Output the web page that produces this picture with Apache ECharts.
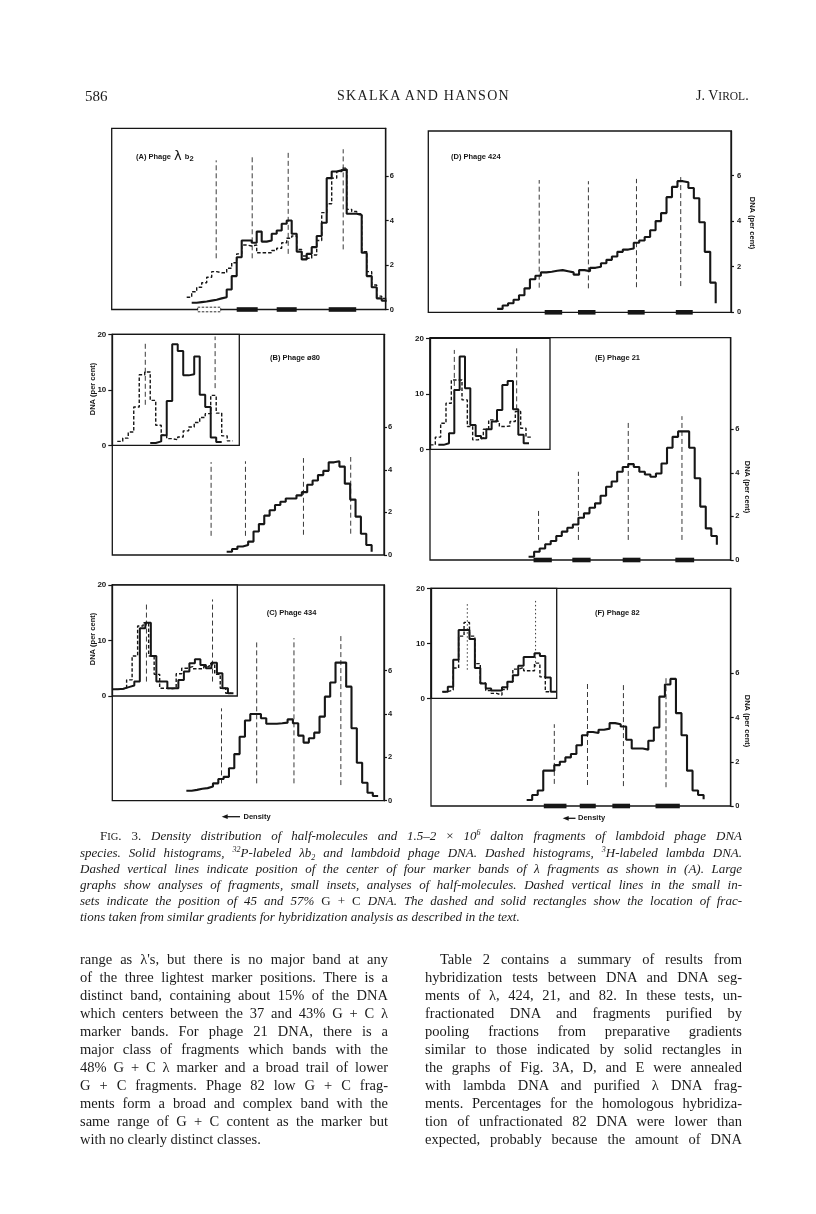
<!DOCTYPE html>
<html>
<head>
<meta charset="utf-8">
<title>Fig. 3 – Skalka and Hanson</title>
<script src="https://cdn.jsdelivr.net/npm/echarts@6.0.0/dist/echarts.min.js"></script>
<style>
html,body{margin:0;padding:0;background:#fff;}
#page{position:relative;width:816px;height:1214px;overflow:hidden;background:#fff;}
#chart{position:absolute;left:0;top:0;width:816px;height:1214px;}
.t{position:absolute;font-family:"Liberation Serif","Times New Roman",serif;color:#1a1a1a;white-space:nowrap;}
.hd{font-size:15px;line-height:16px;top:88px;}
.cap{font-size:13px;font-style:italic;line-height:16px;}
.body{font-size:14.5px;line-height:18px;}
.up{font-style:normal;}
.sp{font-size:8px;line-height:0;position:relative;top:-5px;}
.sb{font-size:8px;line-height:0;position:relative;top:3px;}
</style>
</head>
<body>
<div id="page">
<div id="chart"></div>

<div class="t hd" style="left:85px">586</div>
<div class="t hd" style="left:337px;font-size:14px;letter-spacing:1.3px">SKALKA AND HANSON</div>
<div class="t hd" style="left:696px;font-size:14px">J. V<span style="font-size:11.5px">IROL</span>.</div>

<div class="t cap jl" data-w="642" style="left:100px;top:828px"><span class="up">F<span style="font-size:10.5px">IG</span>. 3.</span> Density distribution of half-molecules and 1.5–2 <span class="up">×</span> 10<span class="sp">6</span> dalton fragments of lambdoid phage DNA</div>
<div class="t cap jl" data-w="662" style="left:80px;top:845px">species. Solid histograms, <span class="sp">32</span>P-labeled λb<span class="sb">2</span> and lambdoid phage DNA. Dashed histograms, <span class="sp">3</span>H-labeled lambda DNA.</div>
<div class="t cap jl" data-w="662" style="left:80px;top:861px">Dashed vertical lines indicate position of the center of four marker bands of λ fragments as shown in (A). Large</div>
<div class="t cap jl" data-w="662" style="left:80px;top:877px">graphs show analyses of fragments, small insets, analyses of half-molecules. Dashed vertical lines in the small in-</div>
<div class="t cap jl" data-w="662" style="left:80px;top:893px">sets indicate the position of 45 and 57% <span class="up">G + C</span> DNA. The dashed and solid rectangles show the location of frac-</div>
<div class="t cap" style="left:80px;top:909px">tions taken from similar gradients for hybridization analysis as described in the text.</div>

<div class="t body jl" data-w="308" style="left:80px;top:950px">range as λ's, but there is no major band at any</div>
<div class="t body jl" data-w="308" style="left:80px;top:968px">of the three lightest marker positions. There is a</div>
<div class="t body jl" data-w="308" style="left:80px;top:986px">distinct band, containing about 15% of the DNA</div>
<div class="t body jl" data-w="308" style="left:80px;top:1004px">which centers between the 37 and 43% G + C λ</div>
<div class="t body jl" data-w="308" style="left:80px;top:1022px">marker bands. For phage 21 DNA, there is a</div>
<div class="t body jl" data-w="308" style="left:80px;top:1040px">major class of fragments which bands with the</div>
<div class="t body jl" data-w="308" style="left:80px;top:1058px">48% G + C λ marker and a broad trail of lower</div>
<div class="t body jl" data-w="308" style="left:80px;top:1076px">G + C fragments. Phage 82 low G + C frag-</div>
<div class="t body jl" data-w="308" style="left:80px;top:1094px">ments form a broad and complex band with the</div>
<div class="t body jl" data-w="308" style="left:80px;top:1112px">same range of G + C content as the marker but</div>
<div class="t body" style="left:80px;top:1130px">with no clearly distinct classes.</div>

<div class="t body jl" data-w="302" style="left:440px;top:950px">Table 2 contains a summary of results from</div>
<div class="t body jl" data-w="317" style="left:425px;top:968px">hybridization tests between DNA and DNA seg-</div>
<div class="t body jl" data-w="317" style="left:425px;top:986px">ments of λ, 424, 21, and 82. In these tests, un-</div>
<div class="t body jl" data-w="317" style="left:425px;top:1004px">fractionated DNA and fragments purified by</div>
<div class="t body jl" data-w="317" style="left:425px;top:1022px">pooling fractions from preparative gradients</div>
<div class="t body jl" data-w="317" style="left:425px;top:1040px">similar to those indicated by solid rectangles in</div>
<div class="t body jl" data-w="317" style="left:425px;top:1058px">the graphs of Fig. 3A, D, and E were annealed</div>
<div class="t body jl" data-w="317" style="left:425px;top:1076px">with lambda DNA and purified λ DNA frag-</div>
<div class="t body jl" data-w="317" style="left:425px;top:1094px">ments. Percentages for the homologous hybridiza-</div>
<div class="t body jl" data-w="317" style="left:425px;top:1112px">tion of unfractionated 82 DNA were lower than</div>
<div class="t body jl" data-w="317" style="left:425px;top:1130px">expected, probably because the amount of DNA</div>
</div>

<script>
// ================= DATA =================
const mainTicks = [0, 2, 4, 6];
const insetTicks = [0, 10, 20];

// (A) Phage λb2 — fragments (fraction index = bin number)
const A_solidStart = 16;
const A_solid = [0.30,0.33,0.36,0.40,0.44,0.50,0.55,0.90,1.50,2.35,3.10,3.10,3.00,3.50,3.05,3.10,3.40,3.55,3.85,4.00,3.40,2.60,2.25,2.50,2.80,3.30,3.90,5.90,6.20,6.25,6.30,4.30,4.30,4.25,2.55,1.50,1.00,0.50,0.40];
const A_dashedStart = 15;
const A_dashed = [0.55,0.80,1.00,1.20,1.45,1.70,1.65,1.65,1.85,2.10,2.50,2.90,2.85,2.90,2.55,2.55,2.55,2.65,2.75,3.00,3.20,3.30,2.70,2.40,2.30,2.45,3.10,4.35,4.75,5.90,6.20,6.35,4.50,4.40,4.30,2.60,1.70,1.10,0.60,0.50];
const A_markerX = [20.9, 28.1, 35.3, 46.3];
const A_markerLow = [2.3, 2.3, 2.5, 2.7];
const A_markerHigh = [6.7, 6.9, 7.05, 7.2];
const A_solidBands = [[25, 29.2], [33, 37], [43.4, 48.9]];
const A_dashedBands = [[17.2, 21.8]];

// (D) Phage 424
const D_solidStart = 12.6;
const D_solid = [0.15,0.30,0.40,0.55,0.75,1.05,1.45,1.60,1.75,1.78,1.82,1.85,1.80,1.75,1.65,1.85,1.80,1.95,2.00,2.15,2.30,2.45,2.65,2.75,2.80,3.05,3.15,3.30,3.60,4.00,4.35,5.05,5.50,5.75,5.70,5.45,5.00,3.95,2.65,1.30];
const D_solidEnd = 0.4;
const D_markerX = [20.3, 29.3, 38.1, 46.2];
const D_markerLow = [1.08, 1.05, 1.1, 1.15];
const D_markerHigh = [5.8, 5.75, 5.85, 6.05];
const D_solidBands = [[21.3, 24.5], [27.4, 30.6], [36.5, 39.6], [45.3, 48.4]];

// (B) Phage φ80
const B_solidStart = 21.3;
const B_solid = [0.15,0.28,0.40,0.47,0.63,1.10,1.45,1.85,2.10,2.35,2.50,2.65,2.65,2.80,2.95,3.30,3.50,3.75,3.95,4.35,4.40,4.15,3.35,2.60,1.80,1.00,0.47];
const B_solidEnd = 0.15;
const B_markerX = [18.4, 24.8, 35.6, 44.4];
const B_markerLow = [0.9, 0.9, 0.95, 1.0];
const B_markerHigh = [4.36, 4.4, 4.55, 4.6];
// (B) inset — half-molecules
const Bi_dashedStart = 0.9;
const Bi_dashed = [0.7,1.3,2.4,6.9,12.7,13.2,8.1,3.6,1.8,1.2,1.0,1.5,2.6,3.3,4.1,5.0,5.7,9.0,5.8,1.7,0.8];
const Bi_solidStart = 6.9;
const Bi_solid = [0.4,0.7,1.8,8.0,18.2,17.0,12.6,12.8,16.0,9.1,6.9,1.4,0.6];
const Bi_markerX = [6.0, 18.7];
const Bi_markerLow = [7.3, 10.3];
const Bi_markerHigh = [18.7, 19.6];

// (E) Phage 21
const E_solidStart = 17.8;
const E_solid = [0.15,0.38,0.53,0.72,0.87,1.10,1.30,1.48,1.63,1.94,2.14,2.40,2.60,2.95,3.36,3.60,4.05,4.27,4.40,4.27,4.05,3.92,3.82,3.97,4.43,5.15,5.65,5.90,5.90,5.15,3.75,2.45,1.45,1.10];
const E_solidEnd = 0.7;
const E_markerX = [19.6, 26.8, 35.8, 45.5];
const E_markerLow = [0.92, 0.92, 0.92, 0.92];
const E_markerHigh = [2.3, 4.05, 6.3, 6.6];
const E_solidBands = [[18.7, 22], [25.7, 29], [34.8, 38], [44.3, 47.7]];
const Ei_dashedStart = 0;
const Ei_dashed = [0.8,2.2,4.7,8.3,12.5,12.5,8.9,4.1,1.7,2.0,3.6,5.3,5.0,4.1,4.2,5.0,6.8,3.8,2.2];
const Ei_solidStart = 1.56;
const Ei_solid = [0.8,1.1,2.9,10.7,16.7,11.0,4.4,2.4,2.0,3.6,5.0,7.1,11.6,12.3,7.2,2.6,1.1];
const Ei_markerX = [4.56, 16.25];
const Ei_markerLow = [7.1, 7.2];
const Ei_markerHigh = [17.9, 18.2];

// (C) Phage 434
const C_solidStart = 13.9;
const C_solid = [0.46,0.50,0.55,0.58,0.65,0.80,1.00,1.10,1.50,2.15,2.95,3.70,4.00,4.00,3.80,3.55,3.55,3.57,3.60,3.75,3.57,3.00,2.68,2.88,3.14,3.88,4.80,5.45,6.37,6.37,5.26,3.34,1.75,0.83,0.37,0.22];
const C_markerX = [20.5, 27.1, 34.1, 42.9];
const C_markerLow = [0.8, 0.8, 0.8, 0.72];
const C_markerHigh = [4.26, 7.3, 7.5, 7.65];
const Ci_solidStart = 0;
const Ci_solid = [1.2,1.3,1.6,1.9,2.6,12.2,13.2,7.2,2.6,2.6,1.4,1.4,2.9,4.4,5.9,6.6,5.6,5.0,6.0,4.1,1.4,0.5];
const Ci_dashedStart = 0.6;
const Ci_dashed = [1.2,1.4,2.9,7.2,12.6,13.2,7.2,3.9,1.4,1.3,1.4,4.0,5.0,5.3,4.9,4.9,5.3,5.8,3.9,1.4,0.5];
const Ci_markerX = [6.2, 18.2];
const Ci_markerLow = [2.6, 2.6];
const Ci_markerHigh = [17.0, 17.4];

// (F) Phage 82
const F_solidStart = 17.3;
const F_solid = [0.27,0.50,0.70,1.60,1.60,1.85,2.00,2.20,2.35,2.75,3.20,3.35,3.30,3.45,3.50,3.75,3.70,3.60,3.00,2.60,2.60,2.55,2.95,3.55,4.95,5.50,5.75,4.20,3.20,1.60,0.70,0.50];
const F_solidEnd = 0.3;
const F_markerX = [22.3, 28.3, 34.8, 42.5];
const F_markerLow = [1.0, 0.95, 0.9, 0.85];
const F_markerHigh = [3.7, 5.6, 5.6, 5.9];
const F_solidBands = [[20.4, 24.5], [26.9, 29.8], [32.8, 36], [40.6, 45]];
const Fi_solidStart = 2.1;
const Fi_solid = [1.2,2.1,7.0,12.4,12.4,10.8,5.5,2.7,1.8,1.4,1.4,2.0,3.0,4.2,5.9,7.5,7.5,8.2,7.7,3.8,1.2];
const Fi_dashedStart = 2.1;
const Fi_dashed = [1.2,1.5,5.5,11.3,13.8,11.3,6.3,2.8,1.4,0.9,0.6,1.6,3.0,5.3,5.6,5.0,5.0,6.4,3.9,1.2];
const Fi_markerX = [6.7, 19.3];
const Fi_markerLow = [5.2, 5.8];
const Fi_markerHigh = [17.3, 17.9];

// ================= LAYOUT / STYLE =================
const INK = '#161616';
const FIGFONT = '"Liberation Sans","DejaVu Sans",Arial,sans-serif';

function hist(values, start, endValue) {
  const pts = values.map((v, i) => [start + i, v]);
  pts.push([start + values.length, values[values.length - 1]]);
  if (endValue !== undefined) pts.push([start + values.length, endValue]);
  return pts;
}

// box = [left, top, width, height] in px
const panels = [
  {box:[111.7,128.3,274,181.2], xMax:54.8, yMax:8.14, inset:false,
   lines:[{d:hist(A_dashed,A_dashedStart),dash:true},{d:hist(A_solid,A_solidStart),dash:false}],
   mk:[A_markerX,A_markerLow,A_markerHigh], bands:A_solidBands, dbands:A_dashedBands, labMargin:4},
  {box:[428.3,131,302.7,181.3], xMax:55.4, yMax:7.95, inset:false,
   lines:[{d:hist(D_solid,D_solidStart,D_solidEnd),dash:false}],
   mk:[D_markerX,D_markerLow,D_markerHigh], bands:D_solidBands, labMargin:6},
  {box:[112.3,334.3,271.7,220.7], xMax:50.6, yMax:10.36, inset:false,
   lines:[{d:hist(B_solid,B_solidStart,B_solidEnd),dash:false}],
   mk:[B_markerX,B_markerLow,B_markerHigh], labMargin:4},
  {box:[430,337.7,300.7,222.3], xMax:54.3, yMax:10.2, inset:false,
   lines:[{d:hist(E_solid,E_solidStart,E_solidEnd),dash:false}],
   mk:[E_markerX,E_markerLow,E_markerHigh], bands:E_solidBands, labMargin:4.5},
  {box:[112.3,585,271.7,215.7], xMax:51, yMax:9.95, inset:false,
   lines:[{d:hist(C_solid,C_solidStart),dash:false}],
   mk:[C_markerX,C_markerLow,C_markerHigh], labMargin:4},
  {box:[431,588.3,299.7,217.7], xMax:54.2, yMax:9.85, inset:false,
   lines:[{d:hist(F_solid,F_solidStart,F_solidEnd),dash:false}],
   mk:[F_markerX,F_markerLow,F_markerHigh], bands:F_solidBands, labMargin:4.5},
  // insets
  {box:[112.3,334.3,127,111], xMax:23.1, yMax:20, inset:true,
   lines:[{d:hist(Bi_dashed,Bi_dashedStart),dash:true},{d:hist(Bi_solid,Bi_solidStart),dash:false}],
   mk:[Bi_markerX,Bi_markerLow,Bi_markerHigh]},
  {box:[430,338.3,120,111], xMax:22.5, yMax:20, inset:true,
   lines:[{d:hist(Ei_dashed,Ei_dashedStart),dash:true},{d:hist(Ei_solid,Ei_solidStart),dash:false}],
   mk:[Ei_markerX,Ei_markerLow,Ei_markerHigh]},
  {box:[112.3,585,125,111], xMax:22.7, yMax:20, inset:true,
   lines:[{d:hist(Ci_dashed,Ci_dashedStart),dash:true},{d:hist(Ci_solid,Ci_solidStart),dash:false}],
   mk:[Ci_markerX,Ci_markerLow,Ci_markerHigh]},
  {box:[431,588.3,125.7,110], xMax:23.2, yMax:20, inset:true,
   lines:[{d:hist(Fi_dashed,Fi_dashedStart),dash:true},{d:hist(Fi_solid,Fi_solidStart),dash:false}],
   mk:[Fi_markerX,Fi_markerLow,Fi_markerHigh], dotted:true}
];

const grid = [], xAxis = [], yAxis = [], series = [];
panels.forEach((p, gi) => {
  grid.push({left:p.box[0], top:p.box[1], width:p.box[2], height:p.box[3],
    show:true, borderColor:INK, borderWidth:1.3,
    backgroundColor: p.inset ? '#ffffff' : 'transparent', z: p.inset ? 3 : 0});
  xAxis.push({type:'value', gridIndex:gi, min:0, max:p.xMax, show:false});
  const ticks = p.inset ? insetTicks : mainTicks;
  yAxis.push({type:'value', gridIndex:gi, min:0, max:p.yMax,
    position: p.inset ? 'left' : 'right', z: p.inset ? 4 : 1,
    axisLine:{show:true, onZero:false, lineStyle:{color:INK, width:1.3}},
    axisTick:{show:true, inside:false, length: p.inset ? 4 : 3, customValues:ticks, lineStyle:{color:INK, width:1.2}},
    axisLabel:{customValues:ticks, color:INK, fontFamily:FIGFONT, fontWeight:'bold',
      fontSize: p.inset ? 8 : 7.5, margin: p.inset ? 6 : p.labMargin},
    splitLine:{show:false}});
  // histograms
  p.lines.forEach(l => {
    series.push({type:'line', xAxisIndex:gi, yAxisIndex:gi, step:'end', data:l.d,
      symbol:'none', silent:true, z: p.inset ? 6 : 3,
      lineStyle: l.dash ? {color:INK, width:1.4, type:[3.5,2]} : {color:INK, width: p.inset ? 2.0 : 2.1}});
  });
  // marker (dashed vertical) lines
  const [mx, lo, hi] = p.mk;
  mx.forEach((x, i) => {
    series.push({type:'line', xAxisIndex:gi, yAxisIndex:gi, data:[[x, lo[i]], [x, hi[i]]],
      symbol:'none', silent:true, z: p.inset ? 5 : 2,
      lineStyle:{color:'#3a3a3a', width:1, type: p.dotted ? [1.5,2.5] : [5,3]}});
  });
  // fraction rectangles on the x axis
  const addBands = (bands, filled) => {
    series.push({type:'custom', xAxisIndex:gi, yAxisIndex:gi, data:bands, clip:false, silent:true, z:7,
      renderItem:(params, api) => {
        const a = api.coord([api.value(0), 0]);
        const b = api.coord([api.value(1), 0]);
        return {type:'rect', shape:{x:a[0], y:a[1]-2.3, width:b[0]-a[0], height:4.6},
          style: filled ? {fill:INK} : {fill:'#fff', stroke:INK, lineWidth:0.9, lineDash:[2.5,1.5]}};
      }});
  };
  if (p.bands) addBands(p.bands, true);
  if (p.dbands) addBands(p.dbands, false);
});

const lab = (x, y, text) => ({type:'text', x, y, silent:true, z:20,
  style:{text, fill:INK, fontFamily:FIGFONT, fontWeight:'bold', fontSize:7.5, align:'left', verticalAlign:'middle'}});
const vlab = (x, y, rot) => ({type:'text', x, y, rotation:rot, silent:true, z:20,
  style:{text:'DNA (per cent)', fill:INK, fontFamily:FIGFONT, fontWeight:'bold', fontSize:7.5,
    align:'center', verticalAlign:'middle'}});
const arrow = (x0, x1, y) => ([
  {type:'line', silent:true, z:20, shape:{x1:x0 + 5, y1:y, x2:x1, y2:y}, style:{stroke:INK, lineWidth:1.3}},
  {type:'polygon', silent:true, z:20, shape:{points:[[x0, y], [x0 + 6, y - 2.4], [x0 + 6, y + 2.4]]}, style:{fill:INK}}
]);

const graphic = [
  {type:'text', x:136, y:157, silent:true, z:20, style:{
    text:'{a|(A) Phage }{l|λ}{a| b}{s|2}', fill:INK, align:'left', verticalAlign:'middle',
    rich:{a:{fontFamily:FIGFONT, fontWeight:'bold', fontSize:7.5, fill:INK},
          l:{fontFamily:'"DejaVu Sans",sans-serif', fontSize:13, fill:INK, padding:[0,1,0,1]},
          s:{fontFamily:FIGFONT, fontWeight:'bold', fontSize:7.5, fill:INK, padding:[4,0,0,0]}}}},
  lab(451, 157, '(D) Phage 424'),
  lab(270, 358, '(B) Phage ø80'),
  lab(595, 358.3, '(E) Phage 21'),
  lab(266.7, 612.7, '(C) Phage 434'),
  lab(595, 613.3, '(F) Phage 82'),
  vlab(752, 223, -Math.PI / 2),
  vlab(747, 487, -Math.PI / 2),
  vlab(746.7, 721, -Math.PI / 2),
  vlab(92.5, 389, Math.PI / 2),
  vlab(93, 639, Math.PI / 2),
  ...arrow(221.7, 240, 816.7),
  lab(243.5, 816.7, 'Density'),
  ...arrow(562.7, 575.5, 818.3),
  lab(578, 818.3, 'Density')
];

const chart = echarts.init(document.getElementById('chart'), null, {renderer:'canvas', width:816, height:1214});
chart.setOption({animation:false, backgroundColor:'transparent', grid, xAxis, yAxis, series, graphic});

// justify the text lines of the page to their column widths
document.querySelectorAll('.jl').forEach(el => {
  const target = parseFloat(el.dataset.w);
  el.style.wordSpacing = '0px';
  const natural = el.getBoundingClientRect().width;
  const spaces = (el.textContent.match(/ /g) || []).length;
  if (spaces > 0) el.style.wordSpacing = ((target - natural) / spaces) + 'px';
});
</script>
</body>
</html>
